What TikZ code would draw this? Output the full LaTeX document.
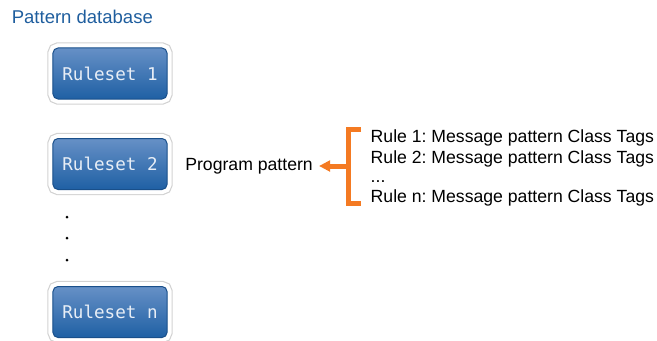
\documentclass[tikz,border=0pt]{standalone}
\usepackage{fontspec}
\setmainfont{Liberation Sans}
\setmonofont{DejaVu Sans Mono}
\usetikzlibrary{arrows.meta,positioning}
\frenchspacing

\definecolor{titleblue}{HTML}{1F5E9E}
\definecolor{boxtop}{HTML}{6690C6}
\definecolor{boxmid}{HTML}{2D6AAE}
\definecolor{boxbot}{HTML}{1F60A4}
\definecolor{boxedge}{HTML}{194F8A}
\definecolor{boxtext}{HTML}{E8EEF6}
\definecolor{bracketorange}{HTML}{F47A22}

\tikzset{
  ruleset/.style={draw=boxedge, line width=0.03cm, rounded corners=0.15cm,
    top color=boxtop, middle color=boxmid, bottom color=boxbot,
    preaction={draw=gray!35, line width=0.34cm},
    preaction={draw=white, line width=0.27cm},
    minimum width=3.42cm, minimum height=1.53cm,
    text=boxtext, font=\ttfamily\fontsize{15}{18}\selectfont},
  plain/.style={inner sep=0pt, font=\fontsize{15.05}{17}\selectfont},
  bracket/.style={draw=bracketorange, line width=0.15cm}
}

\begin{document}
\begin{tikzpicture}[x=0.03cm, y=-0.03cm]
\useasboundingbox (0,0) rectangle (657,340);
\node[plain, anchor=base west, text=titleblue, font=\fontsize{15.8}{18}\selectfont] (title) at (11.6,24) {Pattern database};
\node[ruleset] (rs1) at (110,73.5) {Ruleset 1};
\node[ruleset] (rs2) at (110,164) {Ruleset 2};
\fill (67,217) circle [radius=0.045cm];
\fill (67,238) circle [radius=0.045cm];
\fill (67,260) circle [radius=0.045cm];
\node[ruleset] (rsn) at (110,312) {Ruleset n};
\node[plain, anchor=base west] (r1) at (370.5,142) {Rule 1: Message pattern Class Tags};
\node[plain, anchor=base west] (r2) at (370.5,163) {Rule 2: Message pattern Class Tags};
\node[plain, anchor=base west] (rdots) at (370.5,182) {...};
\node[plain, anchor=base west] (rn) at (370.5,202) {Rule n: Message pattern Class Tags};
\coordinate (brtop) at (361,129.5);
\coordinate (brbot) at (361,203.5);
\coordinate (brmid) at (348.5,166);
\draw[bracket] (brtop) -- (348.5,129.5) -- (348.5,203.5) -- (brbot);
\node[plain, inner xsep=0.18cm, anchor=east] (prog) at (319,166) {Program pattern};
\draw[bracket, -{Triangle[length=0.33cm, width=0.32cm]}] (brmid) -- (prog.east);
\end{tikzpicture}
\end{document}
